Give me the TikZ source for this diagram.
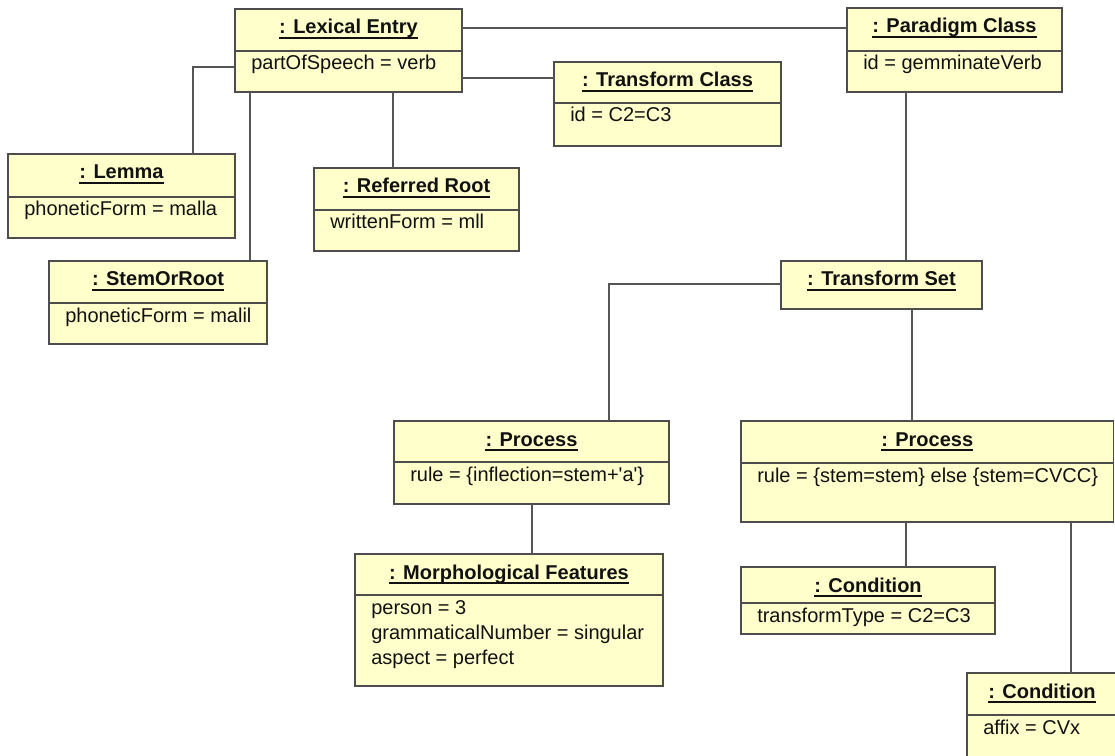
\documentclass[tikz,border=0pt]{standalone}
\usepackage{fontspec}
\setmainfont{Liberation Sans}
\usetikzlibrary{fit,calc}

\definecolor{objfill}{HTML}{FFFFCC}
\definecolor{objdraw}{HTML}{4D4D4D}
\definecolor{connclr}{HTML}{555555}
\definecolor{inkclr}{HTML}{111111}

\tikzset{
  objbox/.style={draw=objdraw, fill=objfill, line width=1.1pt, inner sep=0pt, outer sep=0pt, rectangle},
  objline/.style={draw=objdraw, line width=1.1pt},
  conn/.style={draw=connclr, line width=1.0pt},
  titletext/.style={anchor=base, inner sep=0pt, text=inkclr, font=\fontsize{15}{18.75}\selectfont\bfseries},
  bodytext/.style={anchor=base west, inner sep=0pt, text=inkclr, font=\fontsize{15}{18.75}\selectfont},
  uline/.style={draw=inkclr, line width=1.4pt}
}

% object box: name, left, top, right, bottom, title
\newcommand\umlobject[6]{%
  \node[objbox, fit={(#2,#3) (#4,#5)}] (#1) {};
  \node[titletext] (#1-t) at ([yshift=-18.75pt]#1.north) {#6};
  \draw[uline] ([yshift=-3.2pt]#1-t.base west) -- ([yshift=-3.2pt]#1-t.base east);
}
% attribute compartment: name, divider y, attribute text
\newcommand\umlslots[3]{%
  \draw[objline] (#1.west |- 0,#2) -- (#1.east |- 0,#2);
  \node[bodytext, xshift=12pt] (#1-b) at (#1.west |- 0,{#2+19}) {#3};
}

\begin{document}
\begin{tikzpicture}[x=0.75pt,y=-0.75pt]
\useasboundingbox (0,0) rectangle (1115,756);
\clip (0,0) rectangle (1115,756);

% objects
\umlobject{le}{235}{9}{462}{92}{: Lexical Entry}
\umlslots{le}{51}{partOfSpeech = verb}

\umlobject{pc}{847}{8}{1062}{92}{: Paradigm Class}
\umlslots{pc}{51}{id = gemminateVerb}

\umlobject{tc}{554}{62}{781}{146}{: Transform Class}
\umlslots{tc}{103}{id = C2=C3}

\umlobject{lemma}{8}{154}{235}{238}{: Lemma}
\umlslots{lemma}{197}{phoneticForm = malla}

\umlobject{sr}{49}{261}{267}{344}{: StemOrRoot}
\umlslots{sr}{303}{phoneticForm = malil}

\umlobject{rr}{314}{168}{519}{251}{: Referred Root}
\umlslots{rr}{210}{writtenForm = mll}

\umlobject{ts}{781}{261}{982}{309}{: Transform Set}

\umlobject{pl}{394}{421}{669}{504}{: Process}
\umlslots{pl}{462}{rule = \{inflection=stem+\textquotesingle a\textquotesingle\}}

\umlobject{prr}{741}{421}{1113.5}{522}{: Process}
\umlslots{prr}{463}{rule = \{stem=stem\} else \{stem=CVCC\}}

\umlobject{mf}{355}{554}{663}{686}{: Morphological Features}
\umlslots{mf}{595}{\begin{tabular}[t]{@{}l@{}}person = 3\\ grammaticalNumber = singular\\ aspect = perfect\end{tabular}}

\umlobject{cm}{741}{567}{995}{634}{: Condition}
\umlslots{cm}{603}{transformType = C2=C3}

\umlobject{cb}{967}{673}{1117}{790}{: Condition}
\umlslots{cb}{715}{affix = CVx}

% links
\draw[conn] (le.east |- 0,28) -- (pc.west |- 0,28);
\draw[conn] (le.east |- 0,78) -- (tc.west |- 0,78);
\draw[conn] (le.west |- 0,67) -| (lemma.north -| 193,0);
\draw[conn] (le.south -| 250,0) -- (sr.north -| 250,0);
\draw[conn] (le.south -| 393,0) -- (rr.north -| 393,0);
\draw[conn] (pc.south -| 906,0) -- (ts.north -| 906,0);
\draw[conn] (ts.west |- 0,284) -| (pl.north -| 609,0);
\draw[conn] (ts.south -| 912,0) -- (prr.north -| 912,0);
\draw[conn] (pl.south -| 532,0) -- (mf.north -| 532,0);
\draw[conn] (prr.south -| 906,0) -- (cm.north -| 906,0);
\draw[conn] (prr.south -| 1071,0) -- (cb.north -| 1071,0);
\end{tikzpicture}
\end{document}
